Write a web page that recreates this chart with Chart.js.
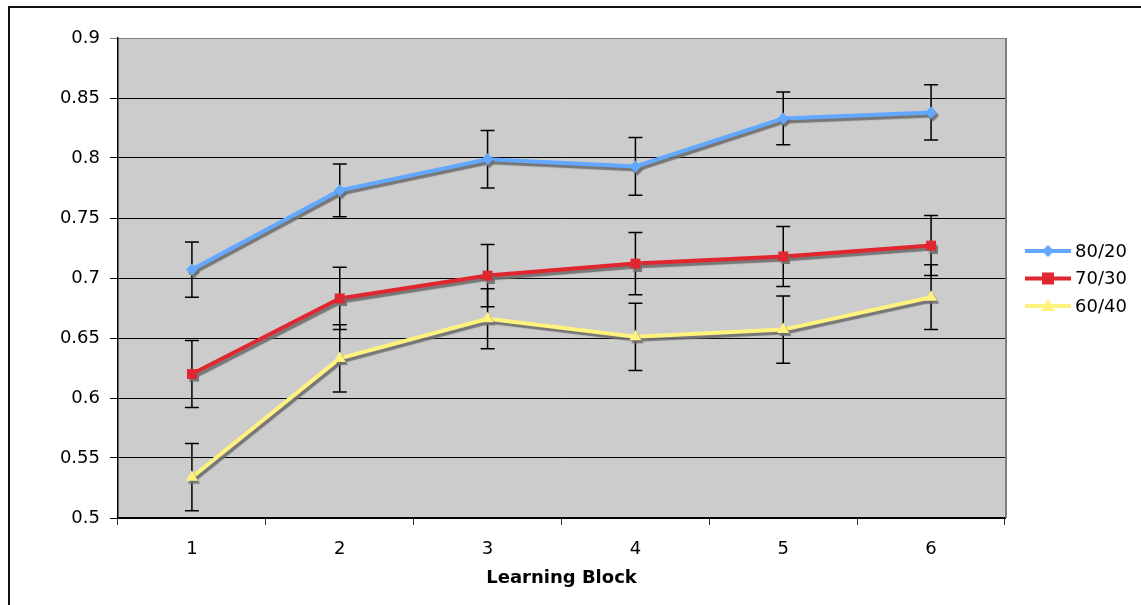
<!DOCTYPE html>
<html lang="en">

<head>
  <meta charset="UTF-8">
  <title>Learning Block</title>
  <script src="https://cdn.jsdelivr.net/npm/chart.js@4.4.0/dist/chart.umd.min.js"></script>
  <style>
    html,
    body {
      margin: 0;
      padding: 0;
      background: #fff;
      overflow: hidden;
    }

    .frame {
      position: absolute;
      left: 8px;
      top: 6px;
      width: 2000px;
      height: 2000px;
      border-top: 2px solid #111;
      border-left: 2px solid #111;
      pointer-events: none;
    }
  </style>
</head>

<body>
  <canvas id="chart" width="1141" height="605"></canvas>
  <div class="frame"></div>

  <script>
    // data
    const blocks = ['1', '2', '3', '4', '5', '6'];
    const s8020 = [0.707, 0.773, 0.799, 0.793, 0.833, 0.838];
    const s7030 = [0.620, 0.683, 0.702, 0.712, 0.718, 0.727];
    const s6040 = [0.534, 0.633, 0.666, 0.651, 0.657, 0.684];
    const err8020 = [0.023, 0.022, 0.024, 0.024, 0.022, 0.023];
    const err7030 = [0.028, 0.026, 0.026, 0.026, 0.025, 0.025];
    const err6040 = [0.028, 0.028, 0.025, 0.028, 0.028, 0.027];

    const FONT = 'DejaVu Sans, Verdana, sans-serif';

    // gray plot area + right border
    const plotBg = {
      id: 'plotBg',
      beforeDraw(chart) {
        const a = chart.chartArea, c = chart.ctx;
        c.save();
        c.fillStyle = '#cccccc';
        c.fillRect(a.left, a.top, a.right - a.left, a.bottom - a.top);
        c.restore();
      },
      afterDraw(chart) {
        const a = chart.chartArea, c = chart.ctx;
        c.save();
        c.strokeStyle = '#808080';
        c.lineWidth = 2;
        c.beginPath();
        c.moveTo(a.right + 1, a.top);
        c.lineTo(a.right + 1, a.bottom);
        c.stroke();
        c.restore();
      }
    };

    // error bars, drawn under the lines
    const errBars = {
      id: 'errBars',
      beforeDatasetsDraw(chart) {
        const c = chart.ctx, y = chart.scales.y;
        c.save();
        c.strokeStyle = '#000';
        c.lineWidth = 1.5;
        chart.data.datasets.forEach((ds, i) => {
          const meta = chart.getDatasetMeta(i);
          meta.data.forEach((pt, j) => {
            const v = ds.data[j], e = ds.errors[j];
            const y1 = y.getPixelForValue(v + e), y2 = y.getPixelForValue(v - e);
            c.beginPath();
            c.moveTo(pt.x, y1); c.lineTo(pt.x, y2);
            c.moveTo(pt.x - 7, y1); c.lineTo(pt.x + 7, y1);
            c.moveTo(pt.x - 7, y2); c.lineTo(pt.x + 7, y2);
            c.stroke();
          });
        });
        c.restore();
      }
    };

    // excel-like drop shadow under each series
    const shadow = {
      id: 'shadow',
      beforeDatasetDraw(chart) {
        const c = chart.ctx;
        c.save();
        c.shadowColor = 'rgba(110,110,110,0.9)';
        c.shadowBlur = 1;
        c.shadowOffsetX = 2;
        c.shadowOffsetY = 3;
      },
      afterDatasetDraw(chart) {
        chart.ctx.restore();
      }
    };

    // legend on the right, line + marker
    const sideLegend = {
      id: 'sideLegend',
      afterDraw(chart) {
        const c = chart.ctx;
        c.save();
        chart.data.datasets.forEach((ds, i) => {
          const y = 251 + i * 27.5;
          c.strokeStyle = ds.borderColor;
          c.lineWidth = 4;
          c.beginPath();
          c.moveTo(1025, y); c.lineTo(1071, y);
          c.stroke();
          c.fillStyle = ds.borderColor;
          c.beginPath();
          if (ds.pointStyle === 'rectRot') {
            c.moveTo(1048, y - 6); c.lineTo(1054, y); c.lineTo(1048, y + 6); c.lineTo(1042, y);
          } else if (ds.pointStyle === 'rect') {
            c.rect(1042, y - 6, 12, 12);
          } else {
            c.moveTo(1048, y - 7); c.lineTo(1055, y + 5); c.lineTo(1041, y + 5);
          }
          c.closePath();
          c.fill();
          c.fillStyle = '#000';
          c.font = '18px ' + FONT;
          c.textBaseline = 'middle';
          c.fillText(ds.label, 1075, y + 1);
        });
        c.restore();
      }
    };

    const ctx = document.getElementById('chart').getContext('2d');
    const chart = new Chart(ctx, {
      type: 'line',
      data: {
        labels: blocks,
        datasets: [{
          label: '80/20',
          data: s8020,
          errors: err8020,
          borderColor: '#62a8ff',
          backgroundColor: '#62a8ff',
          borderWidth: 4,
          pointStyle: 'rectRot',
          pointRadius: 6,
          pointBorderWidth: 0
        }, {
          label: '70/30',
          data: s7030,
          errors: err7030,
          borderColor: '#e0262e',
          backgroundColor: '#e0262e',
          borderWidth: 4,
          pointStyle: 'rect',
          pointRadius: 7,
          pointBorderWidth: 0
        }, {
          label: '60/40',
          data: s6040,
          errors: err6040,
          borderColor: '#fff27e',
          backgroundColor: '#fff27e',
          borderWidth: 4,
          pointStyle: 'triangle',
          pointRadius: 7,
          pointBorderWidth: 0
        }]
      },
      options: {
        responsive: false,
        animation: false,
        layout: {
          padding: { left: 0, top: 38, right: 136, bottom: 0 }
        },
        plugins: {
          legend: { display: false },
          tooltip: { enabled: false }
        },
        scales: {
          x: {
            offset: true,
            afterFit(s) { s.height = 87; },
            grid: {
              offset: true,
              drawOnChartArea: false,
              drawTicks: true,
              tickLength: 7,
              color: '#333'
            },
            border: { color: '#000', width: 2 },
            ticks: {
              color: '#000',
              padding: 14,
              font: { family: FONT, size: 18 }
            },
            title: {
              display: true,
              text: 'Learning Block',
              color: '#000',
              padding: { top: 2, bottom: 16 },
              font: { family: FONT, size: 18, weight: 'bold' }
            }
          },
          y: {
            min: 0.5,
            max: 0.9,
            afterFit(s) { s.width = 118; },
            grid: {
              color: (c) => c.tick && c.tick.value >= 0.899 ? '#808080' : '#000',
              lineWidth: 1,
              tickLength: 8
            },
            border: { color: '#000', width: 1.5 },
            ticks: {
              stepSize: 0.05,
              color: '#000',
              padding: 10,
              font: { family: FONT, size: 18 },
              callback: (v) => String(Number(v.toFixed(2)))
            }
          }
        }
      },
      plugins: [plotBg, errBars, shadow, sideLegend]
    });
  </script>
</body>

</html>
